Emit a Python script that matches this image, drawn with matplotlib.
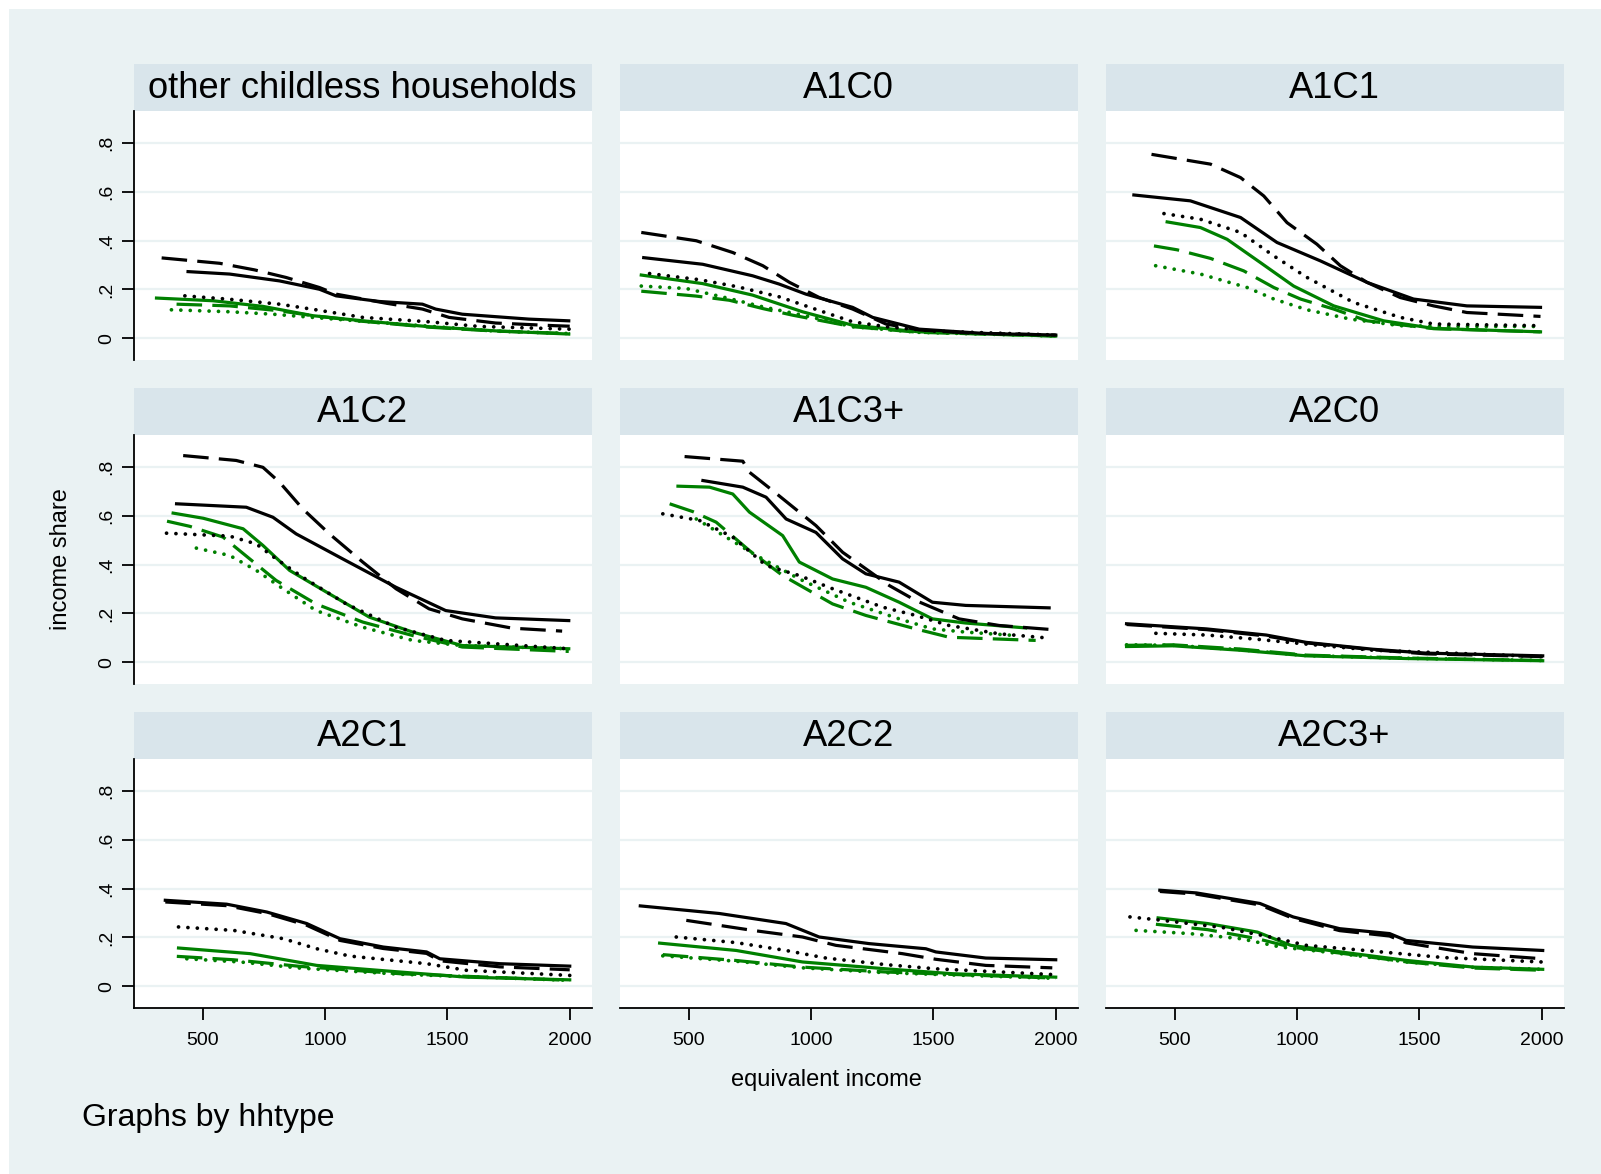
import matplotlib
matplotlib.use("Agg")
import matplotlib.pyplot as plt
from matplotlib.patches import Rectangle

plt.rcParams['font.family'] = ['Liberation Sans', 'DejaVu Sans']

# ---------------- data ----------------
panel_titles = ["other childless households", "A1C0", "A1C1",
                "A1C2", "A1C3+", "A2C0",
                "A2C1", "A2C2", "A2C3+"]

x_ticks = [500, 1000, 1500, 2000]
y_ticks = [0, 0.2, 0.4, 0.6, 0.8]
y_tick_labels = ["0", ".2", ".4", ".6", ".8"]

# series keys: bs = black solid, bd = black dashed, bo = black dotted,
#              gs = green solid, gd = green dashed, go = green dotted
other_childless = {
    "bs": ([440, 610, 814, 977, 1045, 1222, 1398, 1452, 1561, 1833, 1996],
           [0.273, 0.263, 0.235, 0.201, 0.174, 0.151, 0.140, 0.120, 0.099, 0.079, 0.072]),
    "bd": ([332, 569, 712, 841, 977, 1045, 1249, 1398, 1507, 1697, 1941, 2000],
           [0.329, 0.307, 0.280, 0.249, 0.208, 0.181, 0.144, 0.120, 0.086, 0.063, 0.052, 0.050]),
    "bo": ([427, 610, 814, 963, 1154, 1425, 1629, 2000],
           [0.174, 0.160, 0.140, 0.117, 0.086, 0.068, 0.049, 0.038]),
    "gs": ([311, 542, 746, 950, 1154, 1425, 1697, 1996],
           [0.165, 0.154, 0.131, 0.093, 0.072, 0.048, 0.031, 0.018]),
    "gd": ([393, 610, 814, 950, 1154, 1425, 1697, 2000],
           [0.140, 0.133, 0.113, 0.093, 0.070, 0.046, 0.030, 0.020]),
    "go": ([372, 610, 787, 950, 1154, 1425, 1697, 2000],
           [0.117, 0.109, 0.099, 0.086, 0.070, 0.050, 0.030, 0.020]),
}
a1c0 = {
    "bs": ([316, 557, 761, 870, 979, 1170, 1252, 1442, 1714, 2000],
           [0.330, 0.303, 0.256, 0.222, 0.181, 0.127, 0.086, 0.038, 0.020, 0.014]),
    "bd": ([306, 531, 680, 803, 912, 1034, 1170, 1306, 1442, 1646, 2000],
           [0.433, 0.399, 0.351, 0.297, 0.229, 0.167, 0.120, 0.059, 0.035, 0.022, 0.014]),
    "bo": ([340, 544, 700, 870, 1034, 1170, 1306, 1500, 2000],
           [0.265, 0.240, 0.211, 0.170, 0.114, 0.068, 0.048, 0.030, 0.014]),
    "gs": ([306, 557, 761, 965, 1170, 1442, 2000],
           [0.259, 0.224, 0.177, 0.109, 0.054, 0.027, 0.010]),
    "gd": ([306, 531, 666, 803, 925, 1170, 1442, 2000],
           [0.193, 0.173, 0.156, 0.122, 0.095, 0.048, 0.025, 0.010]),
    "go": ([306, 490, 666, 803, 965, 1170, 1442, 2000],
           [0.214, 0.204, 0.163, 0.129, 0.095, 0.048, 0.025, 0.010]),
}
a1c1 = {
    "bs": ([333, 564, 769, 918, 1095, 1286, 1476, 1694, 1995],
           [0.586, 0.562, 0.494, 0.392, 0.317, 0.229, 0.161, 0.133, 0.127]),
    "bd": ([405, 646, 769, 864, 959, 1081, 1177, 1286, 1422, 1558, 1694, 1995],
           [0.752, 0.712, 0.657, 0.582, 0.473, 0.385, 0.297, 0.229, 0.167, 0.133, 0.106, 0.090]),
    "bo": ([456, 605, 769, 905, 1041, 1231, 1422, 1558, 1995],
           [0.510, 0.487, 0.433, 0.337, 0.249, 0.147, 0.086, 0.059, 0.052]),
    "gs": ([469, 605, 714, 850, 986, 1150, 1354, 1558, 1995],
           [0.476, 0.453, 0.405, 0.310, 0.214, 0.133, 0.072, 0.041, 0.027]),
    "gd": ([415, 510, 646, 782, 905, 1014, 1150, 1286, 1558, 1995],
           [0.378, 0.362, 0.327, 0.276, 0.208, 0.161, 0.120, 0.072, 0.040, 0.027]),
    "go": ([422, 605, 796, 905, 1041, 1218, 1422, 1694, 1995],
           [0.297, 0.263, 0.208, 0.161, 0.117, 0.079, 0.052, 0.049, 0.049]),
}
a1c2 = {
    "bs": ([393, 678, 787, 882, 1072, 1290, 1493, 1697, 1996],
           [0.648, 0.634, 0.593, 0.525, 0.423, 0.307, 0.212, 0.182, 0.171]),
    "bd": ([420, 637, 746, 814, 909, 1018, 1154, 1290, 1425, 1561, 1765, 1969],
           [0.845, 0.825, 0.797, 0.736, 0.627, 0.525, 0.410, 0.301, 0.219, 0.178, 0.140, 0.128]),
    "bo": ([352, 610, 719, 800, 909, 1086, 1290, 1493, 1996],
           [0.528, 0.516, 0.484, 0.423, 0.348, 0.239, 0.144, 0.090, 0.056]),
    "gs": ([379, 502, 665, 746, 855, 1018, 1181, 1358, 1561, 1996],
           [0.610, 0.589, 0.546, 0.478, 0.376, 0.280, 0.185, 0.124, 0.069, 0.056]),
    "gd": ([354, 447, 583, 692, 800, 963, 1154, 1358, 1561, 1996],
           [0.577, 0.556, 0.512, 0.423, 0.335, 0.239, 0.165, 0.110, 0.063, 0.045]),
    "go": ([474, 610, 719, 828, 963, 1154, 1358, 1561, 1996],
           [0.467, 0.437, 0.376, 0.301, 0.212, 0.144, 0.090, 0.069, 0.056]),
}
a1c3 = {
    "bs": ([558, 721, 816, 898, 1020, 1129, 1224, 1360, 1496, 1632, 1973],
           [0.743, 0.716, 0.675, 0.586, 0.531, 0.423, 0.362, 0.328, 0.246, 0.233, 0.223]),
    "bd": ([483, 721, 748, 843, 1020, 1129, 1320, 1428, 1605, 1769, 2000],
           [0.841, 0.822, 0.777, 0.702, 0.559, 0.450, 0.314, 0.253, 0.178, 0.151, 0.133]),
    "bo": ([394, 544, 680, 816, 952, 1088, 1292, 1428, 1564, 1769, 1966],
           [0.607, 0.580, 0.512, 0.396, 0.355, 0.301, 0.226, 0.192, 0.151, 0.117, 0.100]),
    "gs": ([456, 585, 680, 748, 884, 952, 1088, 1224, 1360, 1496, 1632, 1877],
           [0.720, 0.716, 0.688, 0.614, 0.518, 0.410, 0.341, 0.307, 0.246, 0.178, 0.161, 0.141]),
    "gd": ([422, 517, 612, 748, 884, 1088, 1224, 1428, 1564, 1918],
           [0.648, 0.616, 0.573, 0.457, 0.355, 0.239, 0.192, 0.137, 0.103, 0.090]),
    "go": ([531, 776, 952, 1156, 1360, 1496, 1632, 1836],
           [0.586, 0.437, 0.341, 0.246, 0.178, 0.137, 0.124, 0.110]),
}
a2c0 = {
    "bs": ([303, 630, 874, 1038, 1310, 1528, 2004],
           [0.158, 0.137, 0.112, 0.082, 0.054, 0.038, 0.027]),
    "bd": ([303, 630, 874, 1038, 1310, 1528, 2004],
           [0.155, 0.134, 0.108, 0.080, 0.052, 0.035, 0.024]),
    "bo": ([423, 630, 834, 1038, 1310, 2004],
           [0.119, 0.112, 0.095, 0.075, 0.050, 0.024]),
    "gs": ([303, 494, 766, 1038, 1446, 2004],
           [0.065, 0.068, 0.050, 0.027, 0.016, 0.007]),
    "gd": ([303, 494, 766, 1038, 1446, 2004],
           [0.070, 0.072, 0.055, 0.030, 0.018, 0.008]),
    "go": ([303, 494, 766, 1038, 1446, 2004],
           [0.072, 0.070, 0.052, 0.028, 0.017, 0.008]),
}
a2c1 = {
    "bs": ([347, 598, 762, 925, 1061, 1238, 1415, 1469, 1714, 2000],
           [0.352, 0.336, 0.304, 0.257, 0.195, 0.161, 0.141, 0.113, 0.093, 0.083]),
    "bd": ([347, 598, 762, 925, 1061, 1238, 1415, 1469, 1714, 2000],
           [0.345, 0.330, 0.298, 0.250, 0.188, 0.155, 0.135, 0.105, 0.080, 0.068]),
    "bo": ([401, 626, 830, 966, 1102, 1415, 1578, 2000],
           [0.243, 0.229, 0.195, 0.154, 0.124, 0.093, 0.066, 0.045]),
    "gs": ([401, 694, 966, 1306, 1578, 2000],
           [0.157, 0.134, 0.086, 0.059, 0.038, 0.027]),
    "gd": ([394, 626, 898, 1306, 2000],
           [0.123, 0.109, 0.082, 0.052, 0.025]),
    "go": ([435, 653, 898, 1306, 2000],
           [0.113, 0.100, 0.075, 0.050, 0.025]),
}
a2c2 = {
    "bs": ([302, 625, 897, 1033, 1237, 1469, 1510, 1714, 2000],
           [0.329, 0.298, 0.257, 0.202, 0.175, 0.154, 0.141, 0.116, 0.109]),
    "bd": ([490, 761, 965, 1101, 1373, 1510, 1714, 1986],
           [0.270, 0.229, 0.202, 0.168, 0.134, 0.111, 0.086, 0.076]),
    "bo": ([449, 694, 897, 1061, 1306, 1510, 2000],
           [0.202, 0.179, 0.147, 0.116, 0.089, 0.072, 0.048]),
    "gs": ([381, 694, 965, 1306, 1578, 2000],
           [0.177, 0.147, 0.100, 0.072, 0.052, 0.038]),
    "gd": ([394, 694, 965, 1306, 2000],
           [0.130, 0.106, 0.079, 0.059, 0.034]),
    "go": ([394, 694, 965, 1306, 2000],
           [0.125, 0.103, 0.076, 0.056, 0.033]),
}
a2c3 = {
    "bs": ([439, 589, 848, 984, 1174, 1378, 1446, 1718, 2004],
           [0.393, 0.382, 0.339, 0.284, 0.236, 0.216, 0.188, 0.161, 0.147]),
    "bd": ([439, 589, 848, 984, 1174, 1378, 1446, 1718, 2004],
           [0.388, 0.377, 0.333, 0.278, 0.228, 0.206, 0.178, 0.134, 0.113]),
    "bo": ([317, 450, 700, 900, 1038, 1300, 1600, 2000],
           [0.284, 0.270, 0.240, 0.200, 0.168, 0.145, 0.118, 0.100]),
    "gs": ([432, 634, 838, 974, 1178, 1450, 1722, 2004],
           [0.280, 0.257, 0.222, 0.168, 0.141, 0.106, 0.079, 0.070]),
    "gd": ([423, 634, 838, 974, 1178, 1450, 1722, 2004],
           [0.254, 0.232, 0.195, 0.161, 0.136, 0.100, 0.075, 0.066]),
    "go": ([342, 560, 770, 933, 1178, 1450, 1722, 2004],
           [0.229, 0.216, 0.195, 0.161, 0.134, 0.100, 0.078, 0.070]),
}
panels = [other_childless, a1c0, a1c1, a1c2, a1c3, a2c0, a2c1, a2c2, a2c3]

# ---------------- styling ----------------
BLACK = "#000000"
GREEN = "#008000"
LW = 2.3
DOT_LW = 2.7
DASH = (0, (8, 3.2))
DOT = (0, (0.01, 2.5))
styles = {
    "bs": dict(color=BLACK, linestyle="-", lw=LW),
    "bd": dict(color=BLACK, linestyle=DASH, lw=LW),
    "bo": dict(color=BLACK, linestyle=DOT, lw=DOT_LW, dash_capstyle="round"),
    "gs": dict(color=GREEN, linestyle="-", lw=LW),
    "gd": dict(color=GREEN, linestyle=DASH, lw=LW),
    "go": dict(color=GREEN, linestyle=DOT, lw=DOT_LW, dash_capstyle="round"),
}
order = ["go", "gd", "gs", "bo", "bd", "bs"]

W, H = 1601, 1174
BG = "#EAF2F3"
BAR = "#D9E5EB"
GRID = "#EAF2F3"

fig = plt.figure(figsize=(W / 100, H / 100), dpi=100, facecolor="white")
fig.patches.append(Rectangle((9 / W, 0), (W - 9) / W, (H - 9) / H,
                             transform=fig.transFigure, facecolor=BG,
                             edgecolor="none", zorder=-10))

col_lefts = [133.5, 619.5, 1105.5]
col_w = 458
title_tops = [64, 388, 712]
title_h = 47
plot_h = 249

for i, data in enumerate(panels):
    r, c = divmod(i, 3)
    L = col_lefts[c]
    top = title_tops[r]
    fig.patches.append(Rectangle((L / W, 1 - (top + title_h) / H), col_w / W, title_h / H,
                                 transform=fig.transFigure, facecolor=BAR,
                                 edgecolor="none", zorder=-5))
    fig.text((L + col_w / 2) / W, 1 - (top + title_h / 2 + 1) / H, panel_titles[i],
             ha="center", va="center", fontsize=26.2, color="black")

    ax = fig.add_axes([L / W, 1 - (top + title_h + plot_h) / H, col_w / W, plot_h / H])
    ax.set_facecolor("white")
    ax.set_xlim(217, 2089)
    ax.set_ylim(-0.088, 0.929)
    for yt in y_ticks:
        ax.axhline(yt, color=GRID, lw=1.6, zorder=0)
    for key in order:
        xs, ys = data[key]
        ax.plot(xs, ys, zorder=2, **styles[key])

    for s in ax.spines.values():
        s.set_visible(False)
    ax.set_yticks(y_ticks)
    ax.set_xticks(x_ticks)
    if c == 0:
        ax.spines["left"].set_visible(True)
        ax.spines["left"].set_linewidth(1.3)
        ax.set_yticklabels(y_tick_labels, rotation=90, va="center", fontsize=14)
        ax.tick_params(axis="y", length=8.5, width=1.3, pad=5, direction="out")
    else:
        ax.tick_params(axis="y", left=False, labelleft=False)
    if r == 2:
        ax.spines["bottom"].set_visible(True)
        ax.spines["bottom"].set_linewidth(1.3)
        ax.set_xticklabels([str(v) for v in x_ticks], fontsize=14)
        ax.tick_params(axis="x", length=8.5, width=1.3, pad=9, direction="out")
    else:
        ax.tick_params(axis="x", bottom=False, labelbottom=False)

fig.text(61 / W, 1 - 559 / H, "income share", rotation=90, ha="center", va="center",
         fontsize=17)
fig.text(826 / W, 1 - 1080 / H, "equivalent income", ha="center", va="center",
         fontsize=17)
fig.text(82 / W, 1 - 1118 / H, "Graphs by hhtype", ha="left", va="center",
         fontsize=23)

fig.savefig("out.png", dpi=100, facecolor="white")
